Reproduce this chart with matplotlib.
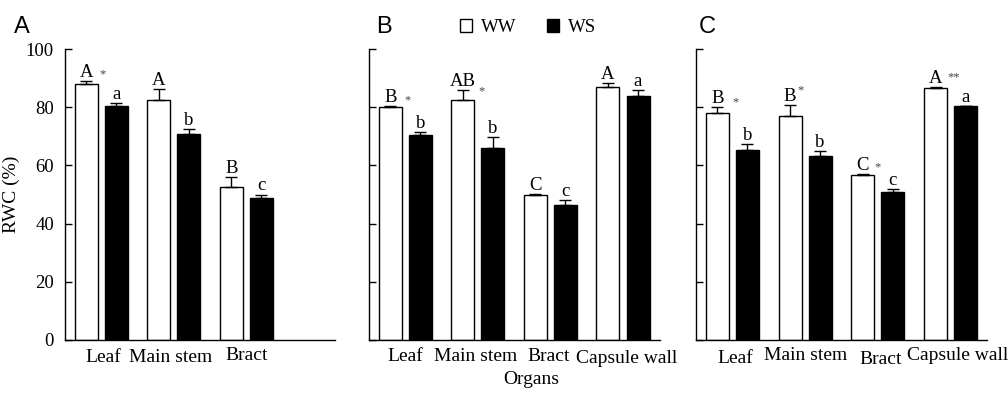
import numpy as np
import matplotlib.pyplot as plt

plt.rcParams['font.family'] = ['Liberation Serif', 'DejaVu Serif']

# ---- data ----
organs_a = ['Leaf', 'Main stem', 'Bract']
organs_bc = ['Leaf', 'Main stem', 'Bract', 'Capsule wall']

ww_a = [88.0, 82.5, 52.5]
ww_a_err = [1.1, 3.6, 3.5]
ws_a = [80.5, 70.7, 48.9]
ws_a_err = [0.8, 1.7, 1.1]
ww_a_letters = ['A', 'A', 'B']
ws_a_letters = ['a', 'b', 'c']
a_stars = ['*', '', '']

ww_b = [80.2, 82.6, 50.0, 86.9]
ww_b_err = [0.3, 3.2, 0.1, 1.3]
ws_b = [70.3, 65.9, 46.4, 83.7]
ws_b_err = [1.3, 4.0, 1.6, 2.2]
ww_b_letters = ['B', 'AB', 'C', 'A']
ws_b_letters = ['b', 'b', 'c', 'a']
b_stars = ['*', '*', '', '']

ww_c = [78.0, 77.1, 56.7, 86.7]
ww_c_err = [2.2, 3.5, 0.3, 0.4]
ws_c = [65.2, 63.2, 51.0, 80.4]
ws_c_err = [2.0, 1.8, 0.8, 0.1]
ww_c_letters = ['B', 'B', 'C', 'A']
ws_c_letters = ['b', 'b', 'c', 'a']
c_stars = ['*', '*', '*', '**']

yticks = [0, 20, 40, 60, 80, 100]

# ---- layout tweaks (pixel offsets) ----
star_pos_a = [(16.5, 9), None, None]
star_pos_b = [(17.3, 8.4), (18.5, 2), None, None]
star_pos_c = [(18, 7.7), (10.5, 18), (15, 9.7), (17.6, 12.7)]
lab_pos_a = [(2, 22), (-3, 22), (0, 20.5)]
lab_pos_b = [(0, 21), (-2, 21), (-2, 21), (4, 23)]
lab_pos_c = [(3, 23), (0, 19.5), (3, 24), (7, 19.5)]

W, H = 1008, 397
fig = plt.figure(figsize=(W / 100, H / 100), dpi=100)


def px_axes(left, right, top=49, bottom=340):
    return fig.add_axes([left / W, 1 - bottom / H, (right - left) / W, (bottom - top) / H])


def draw_panel(ax, names, ww, ww_err, ws, ws_err, ww_let, ws_let, stars, star_pos, lab_pos, xmax):
    x = np.arange(len(names))
    off, bw = 0.207, 0.317
    b1 = ax.bar(x - off, ww, bw, color='white', edgecolor='black', linewidth=1.0, label='WW')
    b2 = ax.bar(x + off, ws, bw, color='black', edgecolor='black', linewidth=1.0, label='WS')
    zeros = np.zeros(len(names))
    for xs, v, e in [(x - off, ww, ww_err), (x + off, ws, ws_err)]:
        ax.errorbar(xs, v, yerr=[zeros, e], fmt='none', ecolor='black',
                    elinewidth=1.0, capsize=4.5, capthick=1.0)
    for i in range(len(names)):
        top_ww = ww[i] + ww_err[i]
        top_ws = ws[i] + ws_err[i]
        ax.annotate(ww_let[i], (x[i] - off, top_ww), xytext=(0, 4), textcoords='offset pixels',
                    ha='center', va='baseline', fontsize=13.5)
        ax.annotate(ws_let[i], (x[i] + off, top_ws), xytext=(0, 4), textcoords='offset pixels',
                    ha='center', va='baseline', fontsize=13.5)
        if stars[i]:
            dx, dy = star_pos[i]
            ax.annotate(stars[i], (x[i] - off, top_ww), xytext=(dx, dy - 6),
                        textcoords='offset pixels', ha='center', va='baseline',
                        fontsize=9, color='#444444')
        dx, dy = lab_pos[i]
        ax.annotate(names[i], (x[i], 0), xytext=(dx, -dy), textcoords='offset pixels',
                    ha='center', va='baseline', fontsize=14, annotation_clip=False)
    ax.set_xlim(-0.5, xmax)
    ax.set_ylim(0, 100)
    ax.set_xticks([])
    ax.set_yticks(yticks)
    ax.tick_params(axis='y', direction='in', length=5, width=1.0, pad=8, labelsize=13.5)
    for s in ['top', 'right']:
        ax.spines[s].set_visible(False)
    for s in ['left', 'bottom']:
        ax.spines[s].set_linewidth(1.0)
    return b1, b2


ax_a = px_axes(65, 335)
ax_b = px_axes(369, 660)
ax_c = px_axes(696, 987)

draw_panel(ax_a, organs_a, ww_a, ww_a_err, ws_a, ws_a_err, ww_a_letters, ws_a_letters,
           a_stars, star_pos_a, lab_pos_a, 3.22)
bww, bws = draw_panel(ax_b, organs_bc, ww_b, ww_b_err, ws_b, ws_b_err, ww_b_letters, ws_b_letters,
                      b_stars, star_pos_b, lab_pos_b, 3.51)
draw_panel(ax_c, organs_bc, ww_c, ww_c_err, ws_c, ws_c_err, ww_c_letters, ws_c_letters,
           c_stars, star_pos_c, lab_pos_c, 3.50)

ax_b.set_yticklabels([])
ax_c.set_yticklabels([])

ax_a.set_ylabel('RWC (%)', fontsize=14)
ax_a.yaxis.set_label_coords(-0.167, 0.5)

fig.text(531 / W, 1 - 380 / H, 'Organs', ha='center', va='center', fontsize=14)

for lab, xp in [('A', 14), ('B', 376), ('C', 699)]:
    fig.text(xp / W, 1 - 33 / H, lab, ha='left', va='baseline', fontsize=17,
             family=['Liberation Sans', 'DejaVu Sans'])

fig.legend([bww, bws], ['WW', 'WS'], loc='center', bbox_to_anchor=(528 / W, 1 - 27.5 / H),
           ncol=2, frameon=False, handlelength=0.65, handleheight=0.65,
           handletextpad=0.5, columnspacing=1.6, fontsize=13.5)

fig.savefig('out.png', dpi=100)
